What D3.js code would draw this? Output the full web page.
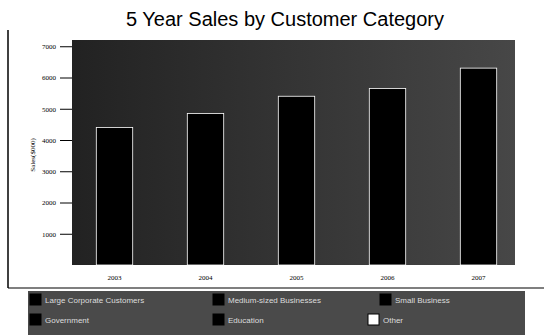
<!DOCTYPE html>
<html><head><meta charset="utf-8">
<script src="https://cdn.jsdelivr.net/npm/d3@7"></script>
<style>body{margin:0;background:#fff}svg{display:block}</style>
</head><body>
<svg id="c" width="544" height="335"></svg>
<script>
const years = ["2003","2004","2005","2006","2007"];
const sales = [4400, 4850, 5400, 5650, 6300];
const yTicks = [1000,2000,3000,4000,5000,6000,7000];
const legendItems = ["Large Corporate Customers","Medium-sized Businesses","Small Business","Government","Education","Other"];
const legendColors = ["#000","#000","#000","#000","#000","#fff"];

const svg = d3.select("#c");
const plot = {l:72, r:515, t:40, b:265};

const defs = svg.append("defs");
const g1 = defs.append("linearGradient").attr("id","bg");
g1.append("stop").attr("offset","0%").attr("stop-color","#222");
g1.append("stop").attr("offset","100%").attr("stop-color","#474747");

// outer frame lines
svg.append("line").attr("x1",8).attr("x2",8).attr("y1",30).attr("y2",288).attr("stroke","#000").attr("stroke-width",1.5);
svg.append("line").attr("x1",8).attr("x2",544).attr("y1",288).attr("y2",288).attr("stroke","#000").attr("stroke-width",1.2);

// title
svg.append("text").attr("x",285).attr("y",26).attr("text-anchor","middle")
  .attr("font-family","Liberation Sans, Arial, sans-serif").attr("font-size",20).text("5 Year Sales by Customer Category");

// plot background
svg.append("rect").attr("x",plot.l).attr("y",plot.t).attr("width",plot.r-plot.l).attr("height",plot.b-plot.t).attr("fill","url(#bg)");

const x = d3.scaleBand().domain(years).range([69,524]).paddingInner(0.6).paddingOuter(0.3);
const y = d3.scaleLinear().domain([0,7200]).range([plot.b, plot.t]);

svg.selectAll("rect.bar").data(sales).join("rect").attr("class","bar")
  .attr("x",(d,i)=>x(years[i])).attr("width",x.bandwidth())
  .attr("y",d=>y(d)).attr("height",d=>plot.b-y(d)).attr("fill","#000")
  .attr("stroke","#fff").attr("stroke-width",0.8);

// y axis
const ya = svg.append("g").attr("transform",`translate(${plot.l},0)`)
  .call(d3.axisLeft(y).tickValues(yTicks).tickSize(12).tickPadding(4).tickFormat(d3.format("d")));
ya.select(".domain").remove();
ya.selectAll("text").attr("font-family","Liberation Serif, serif").attr("font-size",7);
ya.selectAll("line").attr("stroke","#000");

// x labels
const xa = svg.append("g").attr("transform",`translate(0,${plot.b})`)
  .call(d3.axisBottom(x).tickSize(0).tickPadding(10));
xa.select(".domain").remove();
xa.selectAll("text").attr("font-family","Liberation Serif, serif").attr("font-size",7);

// y title
svg.append("text").attr("transform","translate(35,155) rotate(-90)").attr("text-anchor","middle")
  .attr("font-family","Liberation Serif, serif").attr("font-size",7).text("Sales($000)");

// legend
svg.append("rect").attr("x",28).attr("y",291).attr("width",497).attr("height",44).attr("fill","#4a4a4a");
const lpos = [[30,294],[213,294],[380,294],[30,314],[213,314],[368,314]];
const lg = svg.selectAll("g.leg").data(legendItems).join("g").attr("class","leg")
  .attr("transform",(d,i)=>`translate(${lpos[i][0]},${lpos[i][1]})`);
lg.append("rect").attr("width",11).attr("height",11).attr("fill",(d,i)=>legendColors[i]).attr("stroke","#000");
lg.append("text").attr("x",15).attr("y",9).attr("font-family","Liberation Sans, Arial, sans-serif")
  .attr("font-size",8).attr("fill","#ddd").text(d=>d);
</script>
</body></html>
